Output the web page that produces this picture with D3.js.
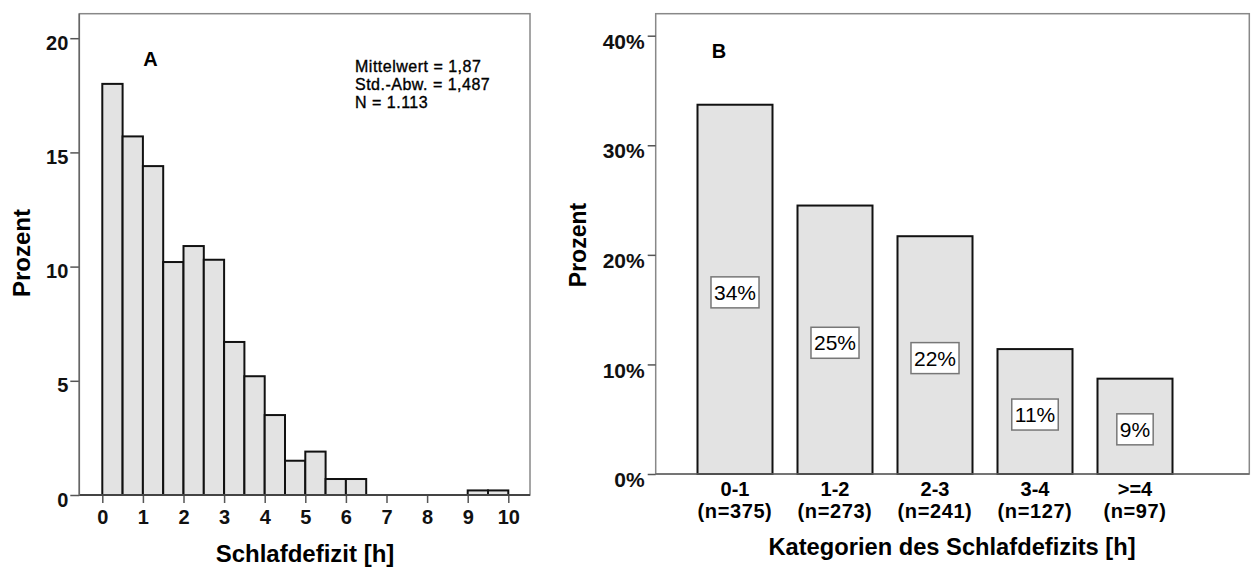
<!DOCTYPE html>
<html>
<head>
<meta charset="utf-8">
<script src="https://cdn.jsdelivr.net/npm/d3@7"></script>
<style>
  body { margin: 0; background: #fff; }
  svg { display: block; font-family: "Liberation Sans", Arial, sans-serif; }
  .tick line { stroke: #555; stroke-width: 1.5px; }
</style>
</head>
<body>
<div id="root"></div>
<script>
// histogram A: bin start (h) and percent
const binStart = [0, 0.5, 1, 1.5, 2, 2.5, 3, 3.5, 4, 4.5, 5, 5.5, 6, 6.5, 7, 7.5, 8, 8.5, 9, 9.5];
const binPct = [18.0, 15.7, 14.4, 10.2, 10.9, 10.3, 6.7, 5.2, 3.5, 1.5, 1.9, 0.7, 0.7, 0, 0, 0, 0, 0, 0.2, 0.2];
const binWidth = 0.5;
const xTicksA = [0, 1, 2, 3, 4, 5, 6, 7, 8, 9, 10];
const yTicksA = [0, 5, 10, 15, 20];
const statsA = ["Mittelwert = 1,87", "Std.-Abw. = 1,487", "N = 1.113"];

// bar chart B: categories, counts, percent
const catB = ["0-1", "1-2", "2-3", "3-4", ">=4"];
const nB = [375, 273, 241, 127, 97];
const pctB = [33.7, 24.5, 21.7, 11.4, 8.7];
const yTicksB = [0, 10, 20, 30, 40];

const width = 1252;
const height = 568;

let svg = d3
  .select("#root")
  .append("svg")
  .attr("width", width)
  .attr("height", height);

// ---------- panel A ----------
const frameA = { left: 79.3, top: 13.7, right: 530, bottom: 495 };

let xA = d3.scaleLinear().domain([0, 10]).range([102.3, 508.3]);
let yA = d3.scaleLinear().domain([0, 20]).range([frameA.bottom, 38.2]);

let gA = svg.append("g");

gA.append("rect")
  .attr("x", frameA.left)
  .attr("y", frameA.top)
  .attr("width", frameA.right - frameA.left)
  .attr("height", frameA.bottom - frameA.top)
  .attr("fill", "none")
  .attr("stroke", "#888")
  .attr("stroke-width", 1.5);

gA.selectAll("rect.bin")
  .data(binStart.map((s, i) => ({ s: s, v: binPct[i] })).filter((d) => d.v > 0))
  .enter()
  .append("rect")
  .attr("class", "bin")
  .attr("x", (d) => xA(d.s))
  .attr("y", (d) => yA(d.v))
  .attr("width", (d) => xA(d.s + binWidth) - xA(d.s))
  .attr("height", (d) => yA(0) - yA(d.v))
  .attr("fill", "#e3e3e3")
  .attr("stroke", "#111")
  .attr("stroke-width", 2);

let yAxisA = gA
  .append("g")
  .attr("transform", "translate(" + frameA.left + ",0)")
  .call(d3.axisLeft(yA).tickValues(yTicksA).tickSize(9).tickPadding(2));
yAxisA.select(".domain").remove();
yAxisA.selectAll("text")
  .attr("dy", "0.55em")
  .style("font-size", "20px")
  .style("font-weight", "bold")
  .style("fill", "#111");

let xAxisA = gA
  .append("g")
  .attr("transform", "translate(0," + frameA.bottom + ")")
  .call(d3.axisBottom(xA).tickValues(xTicksA).tickSize(8).tickPadding(7));
xAxisA.select(".domain").remove();
xAxisA.selectAll("text")
  .style("font-size", "20px")
  .style("font-weight", "bold")
  .style("fill", "#111");

// axis lines
gA.append("line")
  .attr("x1", frameA.left).attr("x2", frameA.right)
  .attr("y1", frameA.bottom).attr("y2", frameA.bottom)
  .attr("stroke", "#444").attr("stroke-width", 2);
gA.append("line")
  .attr("x1", frameA.left).attr("x2", frameA.left)
  .attr("y1", frameA.top).attr("y2", frameA.bottom)
  .attr("stroke", "#666").attr("stroke-width", 1.5);

gA.append("text")
  .attr("x", 143.3)
  .attr("y", 65.7)
  .style("font-size", "20px")
  .style("font-weight", "bold")
  .text("A");

gA.selectAll("text.stat")
  .data(statsA)
  .enter()
  .append("text")
  .attr("class", "stat")
  .attr("x", 355)
  .attr("y", (d, i) => 72 + i * 18)
  .style("font-size", "16px")
  .style("letter-spacing", "0.5px")
  .style("stroke", "#000")
  .style("stroke-width", 0.35)
  .text((d) => d);

gA.append("text")
  .attr("transform", "translate(30,253) rotate(-90)")
  .attr("text-anchor", "middle")
  .style("font-size", "24px")
  .style("font-weight", "bold")
  .text("Prozent");

gA.append("text")
  .attr("x", 305)
  .attr("y", 562)
  .attr("text-anchor", "middle")
  .style("font-size", "24px")
  .style("font-weight", "bold")
  .text("Schlafdefizit [h]");

// ---------- panel B ----------
const frameB = { left: 655.7, top: 13.7, right: 1249.3, bottom: 474 };

let xB = d3.scaleBand().domain(catB).range([685, 1185]).paddingInner(0.25).paddingOuter(0.125);
let yB = d3.scaleLinear().domain([0, 40]).range([frameB.bottom, 35.7]);

let gB = svg.append("g");

gB.append("rect")
  .attr("x", frameB.left)
  .attr("y", frameB.top)
  .attr("width", frameB.right - frameB.left)
  .attr("height", frameB.bottom - frameB.top)
  .attr("fill", "none")
  .attr("stroke", "#888")
  .attr("stroke-width", 1.5);

gB.selectAll("rect.bar")
  .data(catB)
  .enter()
  .append("rect")
  .attr("class", "bar")
  .attr("x", (d) => xB(d))
  .attr("y", (d, i) => yB(pctB[i]))
  .attr("width", xB.bandwidth())
  .attr("height", (d, i) => yB(0) - yB(pctB[i]))
  .attr("fill", "#e3e3e3")
  .attr("stroke", "#111")
  .attr("stroke-width", 2);

gB.append("line")
  .attr("x1", frameB.left).attr("x2", frameB.right)
  .attr("y1", frameB.bottom).attr("y2", frameB.bottom)
  .attr("stroke", "#666").attr("stroke-width", 1.5);

let yAxisB = gB
  .append("g")
  .attr("transform", "translate(" + frameB.left + ",0)")
  .call(d3.axisLeft(yB).tickValues(yTicksB).tickSize(8).tickPadding(3).tickFormat((d) => d + "%"));
yAxisB.select(".domain").remove();
yAxisB.selectAll("text")
  .attr("dy", "0.6em")
  .style("font-size", "21px")
  .style("font-weight", "bold")
  .style("fill", "#111");

// value boxes
let boxes = gB
  .selectAll("g.lab")
  .data(catB)
  .enter()
  .append("g")
  .attr("class", "lab")
  .attr("transform", (d, i) =>
    "translate(" + (xB(d) + xB.bandwidth() / 2) + "," + (yB(pctB[i] / 2) + 3) + ")"
  );

boxes.append("text")
  .attr("text-anchor", "middle")
  .attr("dy", "0.36em")
  .style("font-size", "21px")
  .text((d, i) => Math.round(pctB[i]) + "%");

boxes.each(function () {
  let t = d3.select(this).select("text");
  let bb = t.node().getBBox();
  d3.select(this)
    .insert("rect", "text")
    .attr("x", bb.x - 3)
    .attr("y", -15.5)
    .attr("width", bb.width + 6)
    .attr("height", 31)
    .attr("fill", "#fff")
    .attr("stroke", "#777")
    .attr("stroke-width", 1.5);
});

// category labels: range and count on separate lines
gB.selectAll("text.cat")
  .data(catB)
  .enter()
  .append("text")
  .attr("class", "cat")
  .attr("text-anchor", "middle")
  .attr("x", (d) => xB(d) + xB.bandwidth() / 2)
  .attr("y", 496)
  .style("font-size", "20px")
  .style("font-weight", "bold")
  .text((d) => d);

gB.selectAll("text.catn")
  .data(catB)
  .enter()
  .append("text")
  .attr("class", "catn")
  .attr("text-anchor", "middle")
  .attr("x", (d) => xB(d) + xB.bandwidth() / 2)
  .attr("y", 518)
  .style("font-size", "20px")
  .style("font-weight", "bold")
  .style("letter-spacing", "0.6px")
  .text((d, i) => "(n=" + nB[i] + ")");

gB.append("text")
  .attr("x", 711.7)
  .attr("y", 58.3)
  .style("font-size", "20px")
  .style("font-weight", "bold")
  .text("B");

gB.append("text")
  .attr("transform", "translate(586,245) rotate(-90)")
  .attr("text-anchor", "middle")
  .style("font-size", "23px")
  .style("font-weight", "bold")
  .text("Prozent");

gB.append("text")
  .attr("x", 952)
  .attr("y", 555)
  .attr("text-anchor", "middle")
  .style("font-size", "23.7px")
  .style("font-weight", "bold")
  .text("Kategorien des Schlafdefizits [h]");
</script>
</body>
</html>
